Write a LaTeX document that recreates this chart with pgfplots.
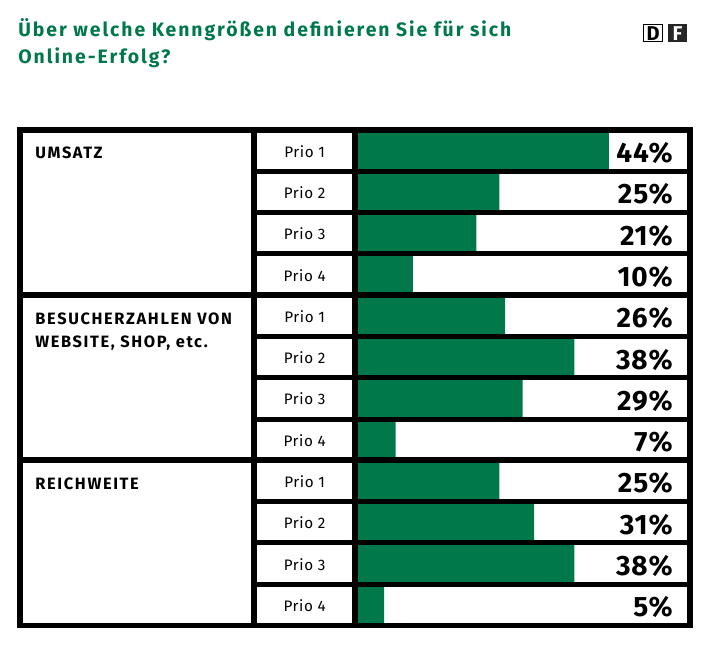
\documentclass[border=0pt]{standalone}
\usepackage{pgfplots}
\pgfplotsset{compat=1.18}
\usepackage{pgfplotstable}
\usepackage{fontspec}
\setmainfont{Fira Sans}
\newfontfamily\titlefont[LetterSpace=10]{Fira Sans}
\newfontfamily\catfont[LetterSpace=10]{Fira Sans}
\newfontfamily\priofont[LetterSpace=4]{Fira Sans}
\newfontfamily\pctfont[LetterSpace=3]{Fira Sans}
\definecolor{dfgreen}{RGB}{0,120,74}

\pgfplotstableread{
row val
1 44
2 25
3 21
4 10
5 26
6 38
7 29
8 7
9 25
10 31
11 38
12 5
}\datatable

\begin{document}
\begin{tikzpicture}
\useasboundingbox (0,0) rectangle (355pt,-323pt);
\begin{axis}[
  at={(177.65pt,-65pt)}, anchor=north west,
  width=167.2pt, height=247.75pt, scale only axis,
  xmin=0, xmax=58, ymin=0.5, ymax=12.5, y dir=reverse,
  axis lines=none, ticks=none,
  xbar, bar width=20.65pt, bar shift=0pt,
  clip=false]
\addplot[fill=dfgreen, draw=none] table[x=val,y=row]{\datatable};
\end{axis}
\begin{scope}[x=0.5pt,y=-0.5pt]
% grid lines
\foreach \k in {1,2,3,5,6,7,9,10,11}{
  \draw[line width=2.5pt] (254,{130+\k*41.29}) -- (689.7,{130+\k*41.29});
}
\foreach \k in {4,8}{
  \draw[line width=3pt] (20,{130+\k*41.29}) -- (689.7,{130+\k*41.29});
}
\draw[line width=3.2pt] (254,130) -- (254,625.5);
\draw[line width=3pt] (355.3,130) -- (355.3,625.5);
\draw[line width=2.8pt] (20,130) rectangle (689.7,625.5);
% prio labels
\foreach \i/\p in {1/1,2/2,3/3,4/4,5/1,6/2,7/3,8/4,9/1,10/2,11/3,12/4}{
  \node[anchor=base, inner sep=0pt, font=\priofont\fontsize{7.6}{9}\selectfont] at (304.6,{130+(\i-0.5)*41.29+6.5}) {Prio \p};
}
% percent labels
\foreach \i/\v in {1/44,2/25,3/21,4/10,5/26,6/38,7/29,8/7,9/25,10/31,11/38,12/5}{
  \node[anchor=base east, inner sep=0pt, font=\pctfont\bfseries\fontsize{14}{16}\selectfont] at (673,{130+(\i-0.5)*41.29+12}) {\v\%};
}
% category labels
\begin{scope}[every node/.style={anchor=base west, inner sep=0pt, font=\catfont\bfseries\fontsize{8.2}{10}\selectfont}]
\node at (35,159) {UMSATZ};
\node at (35,324) {BESUCHERZAHLEN VON};
\node at (35,347) {WEBSITE, SHOP, etc.};
\node at (35,489) {REICHWEITE};
\end{scope}
% title
\begin{scope}[every node/.style={anchor=base west, inner sep=0pt, text=dfgreen, font=\titlefont\bfseries\fontsize{9.7}{11}\selectfont}]
\node at (18,36.7) {Über welche Kenngrößen definieren Sie für sich};
\node at (18,63.3) {Online-Erfolg?};
\end{scope}
% logo
\draw[line width=0.8pt, fill=white] (643.5,24.5) rectangle (662.5,41.5);
\node[inner sep=0pt, font=\bfseries\fontsize{10}{10}\selectfont] at (653,33.5) {D};
\fill[black!85] (668,24) rectangle (687,42);
\node[inner sep=0pt, text=white, font=\bfseries\fontsize{10}{10}\selectfont] at (677.5,33.5) {F};
\end{scope}
\end{tikzpicture}
\end{document}
